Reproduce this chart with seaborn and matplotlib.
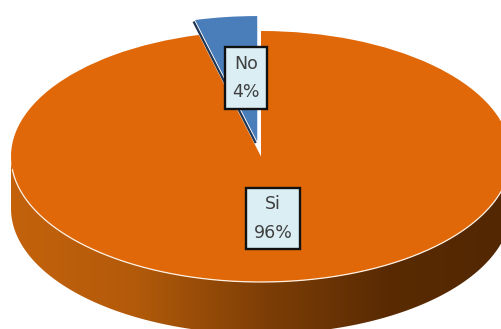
import numpy as np
import matplotlib
matplotlib.use("Agg")
import matplotlib.pyplot as plt
from matplotlib.colors import LinearSegmentedColormap
from matplotlib.patches import Polygon
import seaborn as sns

# Survey answers
answers = ["Si", "No"]
shares = [96, 4]
slice_colors = ["#E06808", "#4A7EBB"]
wall_colors = ["#C4620C", "#B25A0A", "#7F3F06", "#5A2B03", "#522702"]

W, H = 502, 329
CX, CY, RX, RY = 261, 156.5, 250, 125.5
DEPTH = 52 / RY


def px(x, y):
    """Pixel position to pie data coordinates."""
    return (x - CX) / RX, (CY - y) / RY


sns.set_theme(style="white")
plt.rcParams["font.family"] = ["DejaVu Sans"]

fig = plt.figure(figsize=(W / 100, H / 100), dpi=100, facecolor="white")
ax = fig.add_axes([0, 0, 1, 1])

# Top face of the disc; the small slice is pulled away from the centre
wedges, _ = ax.pie(
    shares,
    colors=slice_colors,
    startangle=90,
    counterclock=False,
    explode=[0, 0.12],
    radius=1,
    wedgeprops={"linewidth": 0, "zorder": 3},
)
ax.set_aspect("auto")
ax.axis("off")

# Disc wall: horizontal shading clipped to the lower half of the rim
t = np.linspace(np.pi, 2 * np.pi, 300)
rim_x, rim_y = np.cos(t), np.sin(t)
wall_outline = np.vstack([
    np.column_stack([rim_x, rim_y]),
    np.column_stack([rim_x[::-1], rim_y[::-1] - DEPTH]),
])
wall_patch = Polygon(wall_outline, closed=True, transform=ax.transData, fc="none", ec="none")
ax.add_patch(wall_patch)
wall_cmap = LinearSegmentedColormap.from_list("wall", sns.blend_palette(wall_colors, 64))
shade = ax.imshow(
    np.linspace(0, 1, 400)[None, :],
    cmap=wall_cmap,
    extent=(-1, 1, -1 - DEPTH, 0),
    aspect="auto",
    zorder=2,
)
shade.set_clip_path(wall_patch)
ax.set_xlim(px(0, 0)[0], px(W, 0)[0])
ax.set_ylim(px(0, H)[1], px(0, 0)[1])

# Thin highlight where the top face meets the wall
visible = t > np.pi + 0.1
ax.plot(rim_x[visible], rim_y[visible], color="#FFF1E4", lw=0.9, zorder=4)

# Dark cut face along the left edge of the pulled slice
small = wedges[1]
angle = np.deg2rad(small.theta1 if small.theta1 > 95 else small.theta2)
ox, oy = small.center
ax.plot(
    [ox - 0.006, ox - 0.006 + np.cos(angle) * small.r],
    [oy - 0.012, oy - 0.012 + np.sin(angle) * small.r],
    color="#1F3554",
    lw=1.6,
    solid_capstyle="butt",
    zorder=2.8,
)

# Callout boxes
box = dict(boxstyle="square,pad=0.42", fc="#DAEEF3", ec="#111111", lw=1.7)
label_spots = [px(273, 218.5), px(246, 78)]
for name, value, (lx, ly) in zip(answers, shares, label_spots):
    ax.text(
        lx, ly, f"{name}\n{value}%",
        ha="center", va="center", ma="center",
        fontsize=12.5, color="#3F3F3F", linespacing=1.75,
        bbox=box, zorder=6,
    )

fig.savefig("out.png", dpi=100, facecolor="white")
